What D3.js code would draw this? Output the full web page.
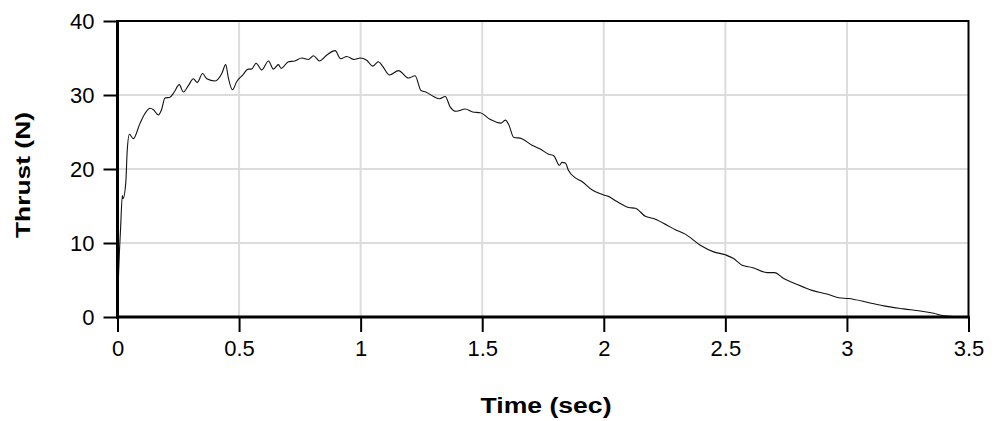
<!DOCTYPE html>
<html>
<head>
<meta charset="utf-8">
<script src="https://cdn.jsdelivr.net/npm/d3@7"></script>
<style>
  body { margin: 0; background: #fff; }
  text { font-family: "Liberation Sans", Arial, Helvetica, sans-serif; }
</style>
</head>
<body>
<svg width="995" height="421"></svg>
<script>
// thrust curve
var time = [0, 0.002, 0.013, 0.020, 0.023, 0.034, 0.040, 0.049, 0.065, 0.093, 0.113, 0.134, 0.148, 0.168, 0.181,
    0.195, 0.216, 0.233, 0.254, 0.271, 0.292, 0.312, 0.328, 0.350, 0.367, 0.401, 0.429, 0.445, 0.456, 0.473,
    0.490, 0.515, 0.538, 0.551, 0.570, 0.593, 0.621, 0.641, 0.662, 0.673, 0.703, 0.729, 0.758, 0.785, 0.806,
    0.831, 0.861, 0.895, 0.918, 0.943, 0.973, 0.998, 1.025, 1.050, 1.073, 1.090, 1.119, 1.156, 1.197, 1.224,
    1.248, 1.268, 1.300, 1.325, 1.348, 1.368, 1.393, 1.430, 1.461, 1.492, 1.533, 1.577, 1.595, 1.609, 1.629,
    1.663, 1.705, 1.739, 1.773, 1.794, 1.818, 1.828, 1.842, 1.855, 1.883, 1.910, 1.951, 1.999, 2.019, 2.054,
    2.102, 2.130, 2.171, 2.205, 2.260, 2.294, 2.335, 2.397, 2.452, 2.500, 2.534, 2.569, 2.610, 2.672, 2.702,
    2.740, 2.788, 2.857, 2.918, 2.966, 3.007, 3.083, 3.152, 3.234, 3.302, 3.357, 3.391, 3.450, 3.500]
var thrust = [0, 3.0, 12.2, 16.4, 16.0, 18.1, 22.5, 24.7, 24.1, 26.2, 27.5, 28.2, 28.0, 27.3, 28.0,
    29.6, 29.7, 30.4, 31.4, 30.4, 31.3, 32.2, 31.7, 32.9, 32.2, 31.9, 32.9, 34.1, 32.3, 30.7,
    31.8, 32.7, 33.5, 33.5, 34.3, 33.4, 34.6, 33.5, 34.1, 33.6, 34.5, 34.6, 35.0, 34.8, 35.3,
    34.6, 35.4, 36.0, 34.9, 35.2, 34.8, 35.0, 34.7, 33.9, 34.5, 33.9, 32.7, 33.3, 32.3, 32.6,
    30.6, 30.4, 29.8, 29.5, 29.8, 28.4, 27.8, 28.1, 27.7, 27.6, 26.7, 26.2, 26.6, 26.0, 24.3,
    24.1, 23.2, 22.7, 22.0, 21.8, 20.5, 20.9, 20.8, 19.8, 18.8, 18.3, 17.2, 16.5, 16.3, 15.6,
    14.8, 14.7, 13.6, 13.3, 12.4, 11.8, 11.2, 9.7, 8.8, 8.4, 7.9, 7.0, 6.7, 6.0, 6.0,
    5.2, 4.5, 3.6, 3.1, 2.6, 2.5, 2.0, 1.5, 1.1, 0.8, 0.5, 0.2, 0.05, 0]

var xTicks = [0, 0.5, 1, 1.5, 2, 2.5, 3, 3.5]
var yTicks = [0, 10, 20, 30, 40]
var xTitle = 'Time (sec)'
var yTitle = 'Thrust (N)'

var svg = d3.select('svg')

var x = d3.scaleLinear().domain([0, 3.5]).range([117.5, 968.5])
var y = d3.scaleLinear().domain([0, 40]).range([317, 21])

// grid
svg.append('g').selectAll('line').data(xTicks.slice(1, -1)).enter().append('line')
    .attr('x1', d => x(d)).attr('x2', d => x(d))
    .attr('y1', y(40)).attr('y2', y(0))
    .attr('stroke', '#dcdcdc').attr('stroke-width', 2)
svg.append('g').selectAll('line').data(yTicks.slice(1, -1)).enter().append('line')
    .attr('x1', x(0)).attr('x2', x(3.5))
    .attr('y1', d => y(d)).attr('y2', d => y(d))
    .attr('stroke', '#dcdcdc').attr('stroke-width', 2)

// frame top / right
svg.append('path')
    .attr('d', 'M' + x(0) + ',' + y(40) + 'H' + x(3.5) + 'V' + y(0))
    .attr('fill', 'none').attr('stroke', '#000').attr('stroke-width', 2)

// curve
var line = d3.line()
    .x((d, i) => x(time[i]))
    .y(d => y(d))
    .curve(d3.curveMonotoneX)
svg.append('path')
    .attr('d', line(thrust))
    .attr('fill', 'none').attr('stroke', '#111').attr('stroke-width', 1.1)

// axes
var xAxis = svg.append('g').attr('transform', 'translate(0,' + y(0) + ')')
    .call(d3.axisBottom(x).tickValues(xTicks).tickSize(15).tickSizeOuter(0).tickPadding(8).tickFormat(d3.format('')))
var yAxis = svg.append('g').attr('transform', 'translate(' + x(0) + ',0)')
    .call(d3.axisLeft(y).tickValues(yTicks).tickSize(14).tickSizeOuter(0).tickPadding(9))

;[xAxis, yAxis].forEach(function (g) {
    g.attr('font-size', 22).attr('font-family', '"Liberation Sans", Arial, sans-serif')
    g.select('.domain').attr('stroke', '#000').attr('stroke-width', 3)
    g.selectAll('.tick line').attr('stroke', '#000').attr('stroke-width', 2)
    g.selectAll('.tick text').attr('fill', '#000')
})
// extend bottom axis line under left axis
xAxis.select('.domain').attr('d', 'M' + (x(0) - 1.5) + ',0H' + (x(3.5) + 1))
yAxis.select('.domain').attr('d', 'M0,' + (y(40) - 1) + 'V' + (y(0) + 1.5))

// titles
svg.append('text')
    .attr('x', 546).attr('y', 413)
    .attr('text-anchor', 'middle')
    .attr('textLength', 131).attr('lengthAdjust', 'spacingAndGlyphs')
    .style('font-size', '22px').style('font-weight', 'bold')
    .text(xTitle)
svg.append('text')
    .attr('transform', 'translate(30,175) rotate(-90)')
    .attr('text-anchor', 'middle')
    .attr('textLength', 126).attr('lengthAdjust', 'spacingAndGlyphs')
    .style('font-size', '21px').style('font-weight', 'bold')
    .text(yTitle)
</script>
</body>
</html>
